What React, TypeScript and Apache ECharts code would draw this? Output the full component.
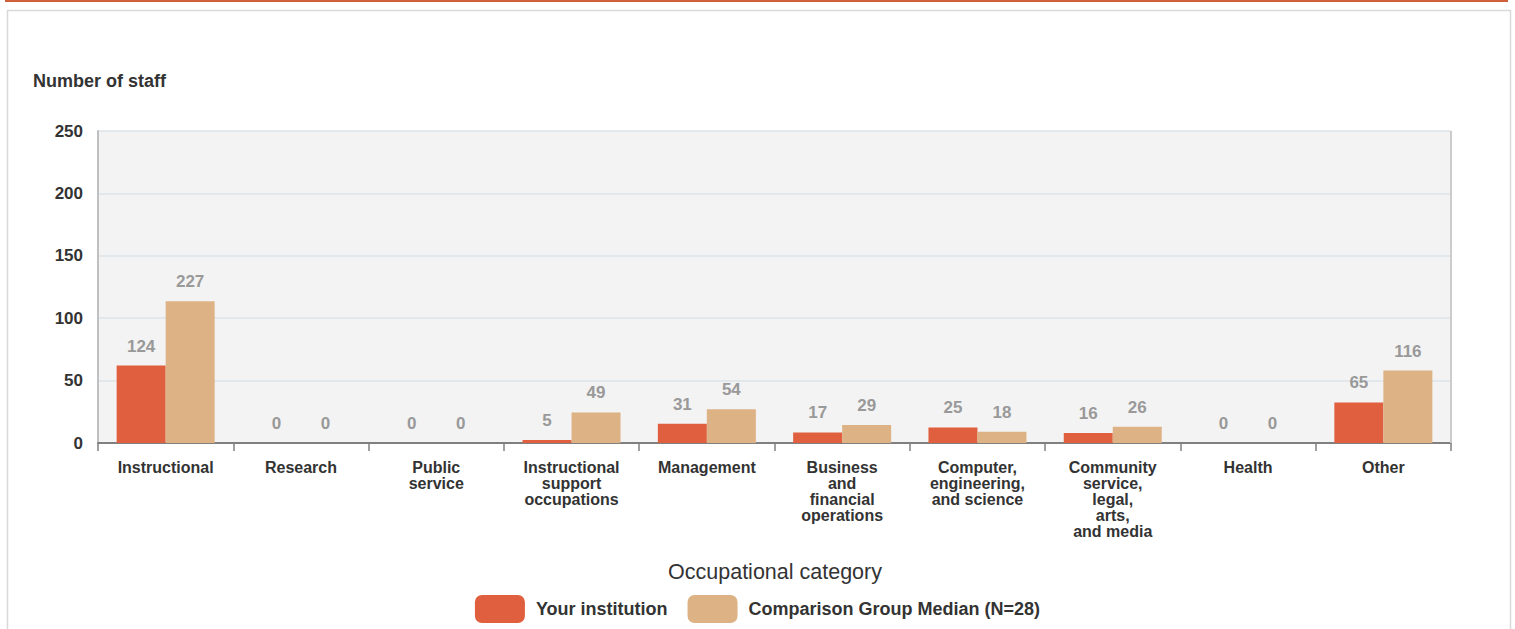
import React, { useEffect, useRef } from "react";
import * as echarts from "echarts";

const categories = [
  "Instructional",
  "Research",
  "Public\nservice",
  "Instructional\nsupport\noccupations",
  "Management",
  "Business\nand\nfinancial\noperations",
  "Computer,\nengineering,\nand science",
  "Community\nservice,\nlegal,\narts,\nand media",
  "Health",
  "Other",
];

// Values shown in labels
const institutionLabels = [124, 0, 0, 5, 31, 17, 25, 16, 0, 65];
const medianLabels = [227, 0, 0, 49, 54, 29, 18, 26, 0, 116];

const institutionBars = [62, 0, 0, 2.5, 15.5, 8.5, 12.5, 8, 0, 32.5];
const medianBars = [113.5, 0, 0, 24.5, 27, 14.5, 9, 13, 0, 58];

const yTicks = { min: 0, max: 250, interval: 50 };

const seriesNames = ["Your institution", "Comparison Group Median (N=28)"];
const colors = ["#e05f3f", "#ddb284"];

export default function App() {
  const ref = useRef<HTMLDivElement>(null);
  useEffect(() => {
    if (!ref.current) return;
    const chart = echarts.init(ref.current, undefined, { renderer: "svg" });
    const font = "Liberation Sans, Arial, sans-serif";
    const labelCfg = (arr: number[]) => ({
      show: true,
      position: "top" as const,
      distance: 11,
      color: "#999999",
      fontWeight: "bold" as const,
      fontSize: 17,
      fontFamily: font,
      formatter: (p: any) => String(arr[p.dataIndex]),
    });
    chart.setOption({
      animation: false,
      textStyle: { fontFamily: font },
      graphic: [
        {
          type: "rect",
          shape: { x: 5, y: 0, width: 1503, height: 2 },
          style: { fill: "#d0603c" },
          silent: true,
        },
        {
          type: "rect",
          shape: { x: 7.5, y: 10.5, width: 1503, height: 630 },
          style: { fill: "none", stroke: "#d9d9d9", lineWidth: 1.5 },
          silent: true,
        },
        {
          type: "text",
          x: 33,
          y: 81,
          style: {
            text: "Number of staff",
            fill: "#333333",
            font: `bold 18px ${font}`,
            textVerticalAlign: "middle",
          },
        },
        {
          type: "text",
          x: 775,
          y: 572,
          style: {
            text: "Occupational category",
            fill: "#333333",
            font: `21.5px ${font}`,
            textAlign: "center",
            textVerticalAlign: "middle",
          },
        },
        {
          type: "line",
          shape: { x1: 1451, y1: 131, x2: 1451, y2: 443 },
          style: { stroke: "#cccccc", lineWidth: 2 },
          z: 5,
        },
      ],
      grid: {
        left: 98,
        right: 64,
        top: 131,
        bottom: 186,
        show: true,
        backgroundColor: "#f3f3f3",
        borderWidth: 0,
      },
      legend: {
        top: 590,
        left: "center",
        itemWidth: 50,
        itemHeight: 28,
        itemGap: 20,
        icon: "roundRect",
        textStyle: {
          color: "#333333",
          fontWeight: "bold",
          fontSize: 18,
          fontFamily: font,
          padding: [0, 0, 0, 6],
        },
        data: seriesNames,
      },
      xAxis: {
        type: "category",
        data: categories,
        axisLine: { lineStyle: { color: "#808080", width: 2 } },
        axisTick: { show: true, length: 8, lineStyle: { color: "#808080", width: 1.5 } },
        axisLabel: {
          interval: 0,
          color: "#333333",
          fontWeight: "bold",
          fontSize: 16,
          lineHeight: 16,
          margin: 16,
          fontFamily: font,
          verticalAlign: "top",
        },
      },
      yAxis: {
        type: "value",
        min: yTicks.min,
        max: yTicks.max,
        interval: yTicks.interval,
        axisLine: { show: true, lineStyle: { color: "#c0c0c0", width: 2 } },
        axisTick: { show: false },
        splitLine: { lineStyle: { color: "#dce3ea", width: 1.5 } },
        axisLabel: {
          color: "#333333",
          fontWeight: "bold",
          fontSize: 17,
          margin: 15,
          fontFamily: font,
        },
      },
      series: [
        {
          name: seriesNames[0],
          type: "bar",
          data: institutionBars,
          barWidth: 49,
          barGap: "0%",
          itemStyle: { color: colors[0] },
          label: labelCfg(institutionLabels),
        },
        {
          name: seriesNames[1],
          type: "bar",
          data: medianBars,
          barWidth: 49,
          barGap: "0%",
          itemStyle: { color: colors[1] },
          label: labelCfg(medianLabels),
        },
      ],
    });
    return () => chart.dispose();
  }, []);
  return (
    <div
      ref={ref}
      style={{ position: "absolute", left: 0, top: 0, width: 1515, height: 629, background: "#fff" }}
    />
  );
}
